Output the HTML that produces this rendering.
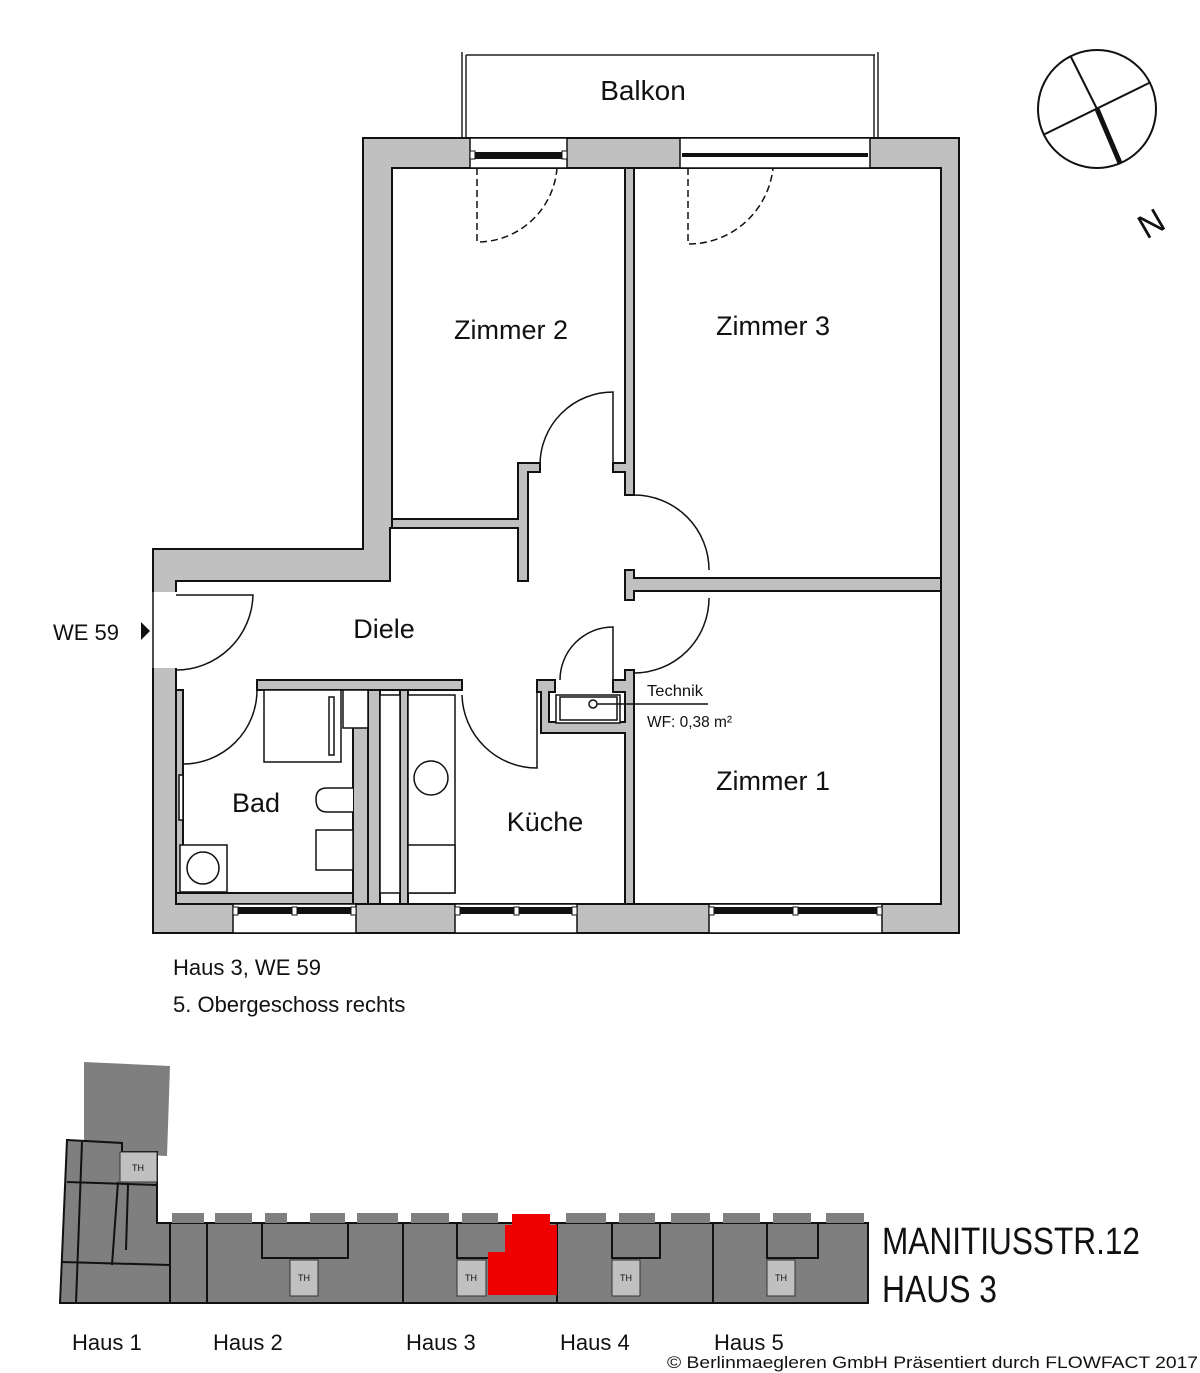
<!DOCTYPE html>
<html><head><meta charset="utf-8"><style>
html,body{margin:0;padding:0;background:#fff;}
svg{display:block;}
text{font-family:"Liberation Sans",sans-serif;fill:#111;}
</style></head><body>
<svg width="1200" height="1373" viewBox="0 0 1200 1373" xmlns="http://www.w3.org/2000/svg">
<!-- Balkon -->
<g fill="none" stroke="#222" stroke-width="1.5">
<line x1="466" y1="55" x2="875" y2="55"/>
<line x1="462" y1="52" x2="462" y2="138"/><line x1="466" y1="55" x2="466" y2="138"/>
<line x1="878" y1="52" x2="878" y2="138"/><line x1="874" y1="55" x2="874" y2="138"/>
</g>
<text x="643" y="100" font-size="28" text-anchor="middle">Balkon</text>

<!-- footprint -->
<polygon points="363,138 959,138 959,933 153,933 153,549 363,549" fill="#c0c0c0" stroke="#111" stroke-width="2"/>
<!-- interior -->
<polygon points="392,168 941,168 941,904 176,904 176,581 390,581 390,528 392,528" fill="#fff" stroke="#111" stroke-width="2"/>
<!-- entrance opening -->
<rect x="152" y="592" width="25" height="76" fill="#fff"/>
<line x1="153" y1="592" x2="153" y2="668" stroke="#111" stroke-width="1.5"/>

<g fill="#c0c0c0" stroke="#111" stroke-width="2">
<!-- Zimmer2 bottom wall & partition -->
<polygon points="392,519 518,519 518,463 540,463 540,472 528,472 528,581 518,581 518,528 392,528"/>
<!-- Zimmer2/3 wall -->
<polygon points="625,168 634,168 634,495 625,495 625,472 613,472 613,463 625,463"/>
<!-- Zimmer3/1 wall + stub -->
<polygon points="625,570 634,570 634,578 941,578 941,591 634,591 634,600 625,600"/>
<!-- wall right of kitchen -->
<polygon points="625,670 634,670 634,904 625,904 625,733 541,733 541,692 537,692 537,680 555,680 555,692 549,692 549,722 625,722 625,692 613,692 613,680 625,680"/>
<!-- Bad top wall -->
<rect x="257" y="680" width="205" height="10"/>
<!-- walls between bad/shaft/kitchen -->
<rect x="353" y="690" width="15" height="214"/>
<rect x="368" y="690" width="12" height="214"/>
<rect x="400" y="690" width="8" height="214"/>
<!-- Bad left wall thin -->
<rect x="176" y="690" width="7" height="214"/>
<rect x="176" y="893" width="177" height="11"/>
</g>
<g fill="#fff" stroke="#111" stroke-width="1.5">
<rect x="380" y="695" width="20" height="198"/>
<rect x="408" y="695" width="47" height="198"/>
<rect x="408" y="845" width="47" height="48"/>
<rect x="264" y="690" width="77" height="72"/>
<rect x="343" y="690" width="25" height="38"/>
<rect x="329" y="697" width="5" height="58"/>
<rect x="556" y="695" width="64" height="28"/>
<rect x="560" y="697" width="57" height="23"/>
<rect x="180" y="845" width="47" height="47"/>
<circle cx="203" cy="868" r="16"/>
<circle cx="431" cy="778" r="17"/>
<path d="M353,788 L327,788 Q316,788 316,799 Q316,812 327,812 L353,812"/>
<rect x="316" y="830" width="37" height="40"/>
<rect x="179" y="775" width="4" height="45"/>
<circle cx="593" cy="704" r="4"/>
</g>
<line x1="597" y1="704" x2="708" y2="704" stroke="#111" stroke-width="1.5"/>

<!-- doors -->
<g fill="none" stroke="#111" stroke-width="1.5">
<path d="M540,465 A73,73 0 0 1 613,392 L613,465"/>
<path d="M634,495 A75,75 0 0 1 709,570"/>
<path d="M709,598 A75,75 0 0 1 634,673"/>
<path d="M176,595 L253,595 A77,77 0 0 1 176,670"/>
<path d="M257,690 A74,74 0 0 1 183,764 L183,690"/>
<path d="M462,695 A75,75 0 0 0 537,768 L537,690"/>
<path d="M560,680 A53,53 0 0 1 613,627 L613,680"/>
<path d="M477,168 L477,242 A80,80 0 0 0 557,168" stroke-dasharray="7,4"/>
<path d="M688,168 L688,244 A85,85 0 0 0 773,168" stroke-dasharray="7,4"/>
</g>

<!-- windows -->
<g stroke="#111" stroke-width="1.5">
<rect x="470" y="138" width="97" height="30" fill="#fff"/>
<rect x="680" y="138" width="190" height="30" fill="#fff"/>
<rect x="233" y="904" width="123" height="29" fill="#fff"/>
<rect x="455" y="904" width="122" height="29" fill="#fff"/>
<rect x="709" y="904" width="173" height="29" fill="#fff"/>
</g>
<g fill="#111">
<rect x="472" y="152" width="93" height="7"/>
<rect x="682" y="153" width="186" height="4"/>
<rect x="235" y="907" width="119" height="7"/>
<rect x="457" y="907" width="118" height="7"/>
<rect x="711" y="907" width="169" height="7"/>
</g>
<g fill="#fff" stroke="#111" stroke-width="1">
<rect x="470" y="151" width="5" height="8"/><rect x="562" y="151" width="5" height="8"/>
<rect x="233" y="907" width="5" height="8"/><rect x="292" y="907" width="5" height="8"/><rect x="351" y="907" width="5" height="8"/>
<rect x="455" y="907" width="5" height="8"/><rect x="514" y="907" width="5" height="8"/><rect x="572" y="907" width="5" height="8"/>
<rect x="709" y="907" width="5" height="8"/><rect x="793" y="907" width="5" height="8"/><rect x="877" y="907" width="5" height="8"/>
</g>

<!-- labels -->
<g font-size="27" text-anchor="middle">
<text x="511" y="339">Zimmer 2</text>
<text x="773" y="335">Zimmer 3</text>
<text x="384" y="638">Diele</text>
<text x="256" y="812">Bad</text>
<text x="545" y="831">Küche</text>
<text x="773" y="790">Zimmer 1</text>
</g>
<text x="647" y="696" font-size="16" fill="#2a3a2a" textLength="56" lengthAdjust="spacingAndGlyphs">Technik</text>
<text x="647" y="727" font-size="16" fill="#2a3a2a" textLength="85" lengthAdjust="spacingAndGlyphs">WF: 0,38 m²</text>
<text x="53" y="640" font-size="22">WE 59</text>
<polygon points="141,622 150,631 141,640" fill="#111"/>

<!-- compass -->
<g fill="none" stroke="#111" stroke-width="2">
<circle cx="1097" cy="109" r="59"/>
<line x1="1071" y1="57" x2="1097" y2="109"/>
<line x1="1043" y1="135" x2="1149" y2="83"/>
<line x1="1097" y1="109" x2="1120" y2="163" stroke-width="5"/>
</g>
<text x="1152" y="235" font-size="34" text-anchor="middle" transform="rotate(-30 1152 225)">N</text>

<text x="173" y="975" font-size="22">Haus 3, WE 59</text>
<text x="173" y="1012" font-size="22">5. Obergeschoss rechts</text>

<!-- site plan -->
<g fill="#7f7f7f" stroke="#111" stroke-width="2">
<polygon points="84,1062 170,1066 167,1156 84,1152" stroke="none"/>
<polygon points="67,1140 122,1143 122,1152 157,1152 157,1223 170,1223 170,1303 60,1303"/>
<rect x="170" y="1223" width="698" height="80"/>
</g>
<g fill="#7f7f7f">
<rect x="172" y="1213" width="32" height="10"/><rect x="215" y="1213" width="37" height="10"/>
<rect x="265" y="1213" width="22" height="10"/><rect x="310" y="1213" width="35" height="10"/>
<rect x="357" y="1213" width="41" height="10"/><rect x="411" y="1213" width="38" height="10"/>
<rect x="462" y="1213" width="36" height="10"/>
<rect x="566" y="1213" width="40" height="10"/><rect x="619" y="1213" width="36" height="10"/>
<rect x="671" y="1213" width="39" height="10"/><rect x="723" y="1213" width="37" height="10"/>
<rect x="773" y="1213" width="38" height="10"/><rect x="826" y="1213" width="38" height="10"/>
</g>
<g fill="none" stroke="#111" stroke-width="2">
<line x1="67" y1="1182" x2="157" y2="1185"/><line x1="62" y1="1262" x2="170" y2="1265"/>
<line x1="82" y1="1142" x2="76" y2="1303"/><line x1="118" y1="1182" x2="112" y2="1265"/>
<line x1="128" y1="1185" x2="126" y2="1250"/>
<line x1="207" y1="1223" x2="207" y2="1303"/><line x1="403" y1="1223" x2="403" y2="1303"/>
<line x1="557" y1="1223" x2="557" y2="1303"/><line x1="713" y1="1223" x2="713" y2="1303"/>
<polyline points="262,1223 262,1258 348,1258 348,1223"/>
<polyline points="457,1223 457,1258 505,1258"/>
<polyline points="612,1223 612,1258 660,1258 660,1223"/>
<polyline points="767,1223 767,1258 818,1258 818,1223"/>
</g>
<polygon points="505,1225 557,1225 557,1295 488,1295 488,1252 505,1252" fill="#ee0000"/>
<rect x="512" y="1214" width="38" height="11" fill="#ee0000"/>
<g fill="#c0c0c0" stroke="#333" stroke-width="1">
<rect x="120" y="1152" width="37" height="30"/>
<rect x="290" y="1260" width="28" height="36"/>
<rect x="457" y="1260" width="29" height="36"/>
<rect x="612" y="1260" width="28" height="36"/>
<rect x="767" y="1260" width="28" height="36"/>
</g>
<g font-size="9" fill="#555" text-anchor="middle">
<text x="138" y="1171" fill="#555">TH</text>
<text x="304" y="1281" fill="#555">TH</text>
<text x="471" y="1281" fill="#555">TH</text>
<text x="626" y="1281" fill="#555">TH</text>
<text x="781" y="1281" fill="#555">TH</text>
</g>
<text x="882" y="1254" font-size="38" textLength="258" lengthAdjust="spacingAndGlyphs" fill="#222">MANITIUSSTR.12</text>
<text x="882" y="1302" font-size="38" textLength="115" lengthAdjust="spacingAndGlyphs" fill="#222">HAUS 3</text>
<g font-size="22">
<text x="72" y="1350">Haus 1</text>
<text x="213" y="1350">Haus 2</text>
<text x="406" y="1350">Haus 3</text>
<text x="560" y="1350">Haus 4</text>
<text x="714" y="1350">Haus 5</text>
</g>
<text x="667" y="1368" font-size="17" textLength="531" lengthAdjust="spacingAndGlyphs">© Berlinmaegleren GmbH Präsentiert durch FLOWFACT 2017</text>
</svg>
</body></html>
